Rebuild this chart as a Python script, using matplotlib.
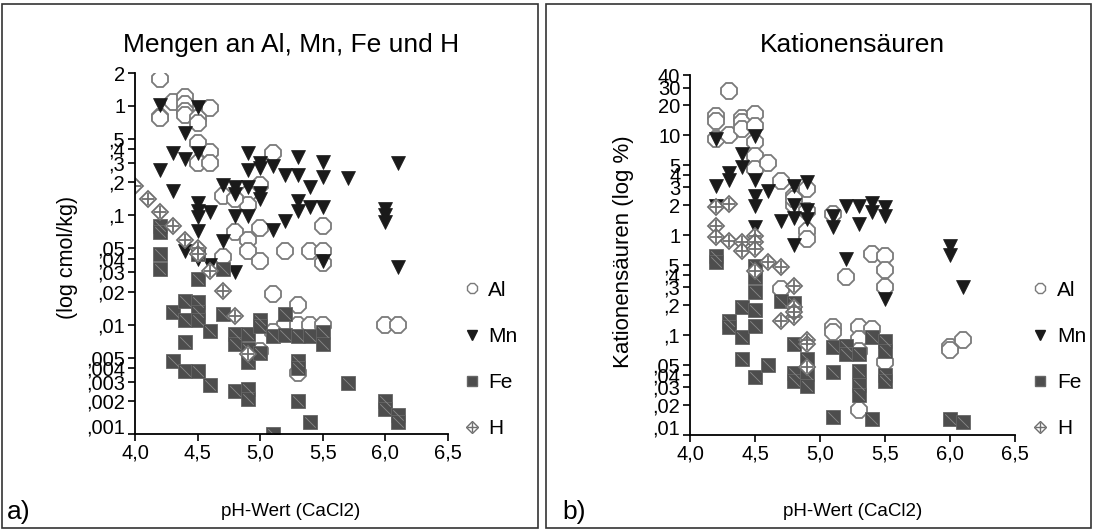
import matplotlib
matplotlib.use("Agg")
import matplotlib.pyplot as plt
import matplotlib.transforms as mtransforms
from matplotlib.lines import Line2D
from matplotlib.patches import Rectangle
from matplotlib.path import Path

plt.rcParams['font.family'] = ['Liberation Sans', 'DejaVu Sans']

# ---- panel a) amounts (cmol/kg) ----
al_a_ph = [4.2, 4.2, 4.2, 4.3, 4.4, 4.4, 4.4, 4.4, 4.5, 4.5, 4.6, 4.5, 4.6, 4.5, 4.6,
           5.1, 5.0, 4.9, 4.9, 4.7, 4.8, 5.0, 5.5, 4.8, 4.9, 4.9, 4.7, 5.0, 5.2, 5.4,
           5.5, 5.5, 5.1, 5.3, 5.2, 5.3, 5.4, 5.5, 6.0, 6.1, 5.1, 5.0, 5.3]
al_a_val = [1.75, 0.8, 0.77, 1.08, 1.2, 1.05, 0.9, 0.83, 0.78, 0.7, 0.95, 0.46, 0.38, 0.3, 0.3,
            0.37, 0.19, 0.155, 0.125, 0.15, 0.14, 0.077, 0.08, 0.07, 0.06, 0.047, 0.042, 0.038, 0.047, 0.047,
            0.047, 0.037, 0.019, 0.015, 0.01, 0.01, 0.01, 0.01, 0.01, 0.01, 0.0086, 0.0057, 0.0036]

mn_a_ph = [4.2, 4.5, 4.4, 4.3, 4.4, 4.5, 4.2, 4.9, 4.9, 5.0, 5.0, 5.1, 5.3, 5.5, 6.1,
           5.2, 5.3, 5.5, 5.7, 5.4, 4.9, 5.0, 5.0, 5.3, 5.3, 5.4, 5.5, 6.0, 6.0, 6.0,
           4.9, 5.2, 5.1, 5.5, 6.1, 4.3, 4.5, 4.5, 4.5, 4.6, 4.5, 4.7, 4.8, 4.8, 4.8,
           4.7, 4.4, 4.5, 4.6, 4.8]
mn_a_val = [1.02, 0.98, 0.56, 0.37, 0.33, 0.37, 0.26, 0.37, 0.26, 0.30, 0.27, 0.28, 0.34, 0.31, 0.30,
            0.235, 0.235, 0.226, 0.22, 0.18, 0.18, 0.16, 0.14, 0.135, 0.11, 0.12, 0.12, 0.114, 0.10, 0.087,
            0.098, 0.089, 0.074, 0.038, 0.034, 0.166, 0.13, 0.11, 0.096, 0.108, 0.072, 0.19, 0.18, 0.155, 0.098,
            0.058, 0.047, 0.04, 0.035, 0.03]

fe_a_ph = [4.2, 4.2, 4.2, 4.2, 4.5, 4.5, 4.7, 4.3, 4.4, 4.4, 4.5, 4.5, 4.5, 4.6, 4.4, 4.7,
           4.8, 4.8, 4.9, 4.9, 4.9, 4.3, 4.4, 4.5, 4.6, 4.8, 4.9, 4.9, 5.0, 5.0, 5.1, 5.2,
           5.2, 5.3, 5.4, 5.5, 5.5, 5.0, 5.3, 5.3, 5.3, 5.7, 5.4, 5.1, 6.0, 6.0, 6.1, 6.1]
fe_a_val = [0.08, 0.07, 0.044, 0.032, 0.026, 0.044, 0.032, 0.013, 0.0165, 0.011, 0.016, 0.013, 0.011, 0.0088, 0.007, 0.0125,
            0.0083, 0.0067, 0.0083, 0.006, 0.0046, 0.0047, 0.0038, 0.0038, 0.0028, 0.0025, 0.0026, 0.0021, 0.011, 0.0098, 0.0078, 0.0126,
            0.008, 0.0078, 0.0078, 0.0086, 0.0067, 0.0055, 0.0047, 0.004, 0.002, 0.0029, 0.0013, 0.001, 0.002, 0.0017, 0.0015, 0.0013]

h_a_ph = [4.0, 4.1, 4.2, 4.3, 4.4, 4.5, 4.5, 4.6, 4.7, 4.8, 4.9]
h_a_val = [0.185, 0.14, 0.108, 0.08, 0.06, 0.05, 0.044, 0.031, 0.0205, 0.012, 0.0054]

# ---- panel b) cation acids (%) ----
al_b_ph = [4.3, 4.2, 4.2, 4.2, 4.3, 4.4, 4.4, 4.4, 4.5, 4.5, 4.5, 4.5, 4.5, 4.6, 4.7, 4.8,
           4.9, 4.8, 4.8, 4.9, 4.9, 4.9, 5.1, 5.4, 5.5, 5.5, 5.5, 5.2, 5.1, 5.1, 5.3, 5.4,
           5.3, 5.2, 5.3, 5.5, 5.3, 6.0, 6.0, 6.1, 4.7]
al_b_val = [28, 15.5, 14, 9.1, 10, 15, 13.5, 11.5, 16.2, 12.3, 8.5, 6.2, 4.6, 5.3, 3.5, 2.45,
            2.9, 2.0, 2.3, 1.75, 1.1, 0.91, 1.62, 0.65, 0.62, 0.45, 0.3, 0.38, 0.12, 0.107, 0.12, 0.115,
            0.091, 0.074, 0.07, 0.054, 0.018, 0.076, 0.071, 0.09, 0.29]

mn_b_ph = [4.2, 4.3, 4.3, 4.4, 4.4, 4.5, 4.5, 4.2, 4.6, 4.8, 4.9, 4.2, 4.5, 4.5, 4.5, 4.7,
           4.8, 4.8, 4.9, 4.9, 4.8, 5.1, 5.1, 5.2, 5.3, 5.3, 5.4, 5.4, 5.5, 5.5, 5.2, 6.0,
           6.0, 6.1, 5.5]
mn_b_val = [9.1, 4.2, 3.6, 6.5, 4.8, 9.8, 3.6, 3.1, 2.75, 3.1, 3.4, 1.95, 2.45, 1.95, 1.2, 1.38,
            2.0, 0.8, 1.8, 1.45, 1.5, 1.55, 1.2, 1.95, 1.95, 1.3, 2.1, 1.7, 1.9, 1.55, 0.58, 0.77,
            0.64, 0.30, 0.23]

fe_b_ph = [4.2, 4.2, 4.3, 4.3, 4.4, 4.4, 4.4, 4.5, 4.5, 4.5, 4.5, 4.5, 4.5, 4.6, 4.7, 4.8,
           4.8, 4.8, 4.8, 4.9, 4.9, 4.9, 5.1, 5.1, 5.1, 5.2, 5.2, 5.3, 5.3, 5.3, 5.3, 5.4,
           5.4, 5.5, 5.5, 5.5, 5.5, 6.0, 6.1]
fe_b_val = [0.62, 0.54, 0.138, 0.12, 0.19, 0.095, 0.057, 0.18, 0.123, 0.038, 0.49, 0.38, 0.27, 0.05, 0.22, 0.21,
            0.082, 0.042, 0.035, 0.057, 0.041, 0.031, 0.076, 0.043, 0.015, 0.078, 0.065, 0.065, 0.044, 0.032, 0.025, 0.095,
            0.0145, 0.087, 0.07, 0.04, 0.035, 0.0145, 0.0135]

h_b_ph = [4.2, 4.3, 4.2, 4.2, 4.3, 4.4, 4.4, 4.5, 4.5, 4.5, 4.5, 4.6, 4.7, 4.8, 4.8, 4.8,
          4.7, 4.8, 4.9, 4.9, 4.9]
h_b_val = [1.9, 2.05, 1.23, 0.95, 0.87, 0.85, 0.7, 0.98, 0.85, 0.72, 0.44, 0.54, 0.48, 0.31, 0.19, 0.15,
           0.137, 0.17, 0.09, 0.081, 0.048]

xticks = [4.0, 4.5, 5.0, 5.5, 6.0, 6.5]
xticklabels = ['4,0', '4,5', '5,0', '5,5', '6,0', '6,5']
yticks_a = [2, 1, 0.5, 0.4, 0.3, 0.2, 0.1, 0.05, 0.04, 0.03, 0.02, 0.01,
            0.005, 0.004, 0.003, 0.002, 0.001]
ylabels_a = ['2', '1', ',5', ',4', ',3', ',2', ',1', ',05', ',04', ',03', ',02', ',01',
             ',005', ',004', ',003', ',002', ',001']
yticks_b = [40, 30, 20, 10, 5, 4, 3, 2, 1, 0.5, 0.4, 0.3, 0.2, 0.1, 0.05, 0.04, 0.03, 0.02, 0.01]
ylabels_b = ['40', '30', '20', '10', '5', '4', '3', '2', '1', ',5', ',4', ',3', ',2', ',1',
             ',05', ',04', ',03', ',02', ',01']

AL_EDGE = '#7a7a7a'
FE_COL = '#4d4d4d'
H_EDGE = '#6e6e6e'
slash = Path([(-1, 1), (1, -1)])

fig = plt.figure(figsize=(10.94, 5.30), dpi=100)


def draw(ax, al, mn, fe, h):
    ax.plot(*al, ls='none', marker='8', ms=12, mfc='white', mec=AL_EDGE, mew=1.3)
    ax.plot(*mn, ls='none', marker='v', ms=10, mfc='#1a1a1a', mec='#1a1a1a', mew=0.5)
    ax.plot(*fe, ls='none', marker='s', ms=10.5, mfc=FE_COL, mec='#666666', mew=0.6)
    ax.plot(*fe, ls='none', marker=slash, ms=7.5, mec='#8a8a8a', mew=0.6)
    ax.plot(*h, ls='none', marker='D', ms=8.5, mfc='white', mec=H_EDGE, mew=1.3)
    ax.plot(*h, ls='none', marker='+', ms=9, mec=H_EDGE, mew=1.3)


def style(ax, ylim, yt, yl):
    ax.set_yscale('log')
    ax.set_xlim(4.0, 6.5)
    ax.set_ylim(*ylim)
    ax.set_xticks(xticks)
    ax.set_xticklabels(xticklabels)
    ax.set_yticks(yt)
    ax.set_yticklabels(yl)
    ax.minorticks_off()
    for s in ['top', 'right']:
        ax.spines[s].set_visible(False)
    for s in ['left', 'bottom']:
        ax.spines[s].set_linewidth(1.3)
    ax.tick_params(direction='out', length=5, width=1.2, labelsize=14.5, pad=2)
    # lowest label sits a little higher, as in the original
    lab = ax.get_yticklabels()[-1]
    lab.set_transform(lab.get_transform() + mtransforms.ScaledTranslation(0, 6 / 72, fig.dpi_scale_trans))


axa = fig.add_axes([0.1234, 0.1811, 0.2861, 0.6811])
draw(axa, (al_a_ph, al_a_val), (mn_a_ph, mn_a_val), (fe_a_ph, fe_a_val), (h_a_ph, h_a_val))
style(axa, (0.001, 2), yticks_a, ylabels_a)

axb = fig.add_axes([0.6307, 0.1792, 0.2971, 0.6792])
draw(axb, (al_b_ph, al_b_val), (mn_b_ph, mn_b_val), (fe_b_ph, fe_b_val), (h_b_ph, h_b_val))
style(axb, (0.01, 40), yticks_b, ylabels_b)

# legends
handles = [
    Line2D([], [], ls='none', marker='8', ms=7.5, mfc='white', mec=AL_EDGE, mew=1),
    Line2D([], [], ls='none', marker='v', ms=7, mfc='#1a1a1a', mec='#1a1a1a'),
    Line2D([], [], ls='none', marker='s', ms=7, mfc=FE_COL, mec='#666666'),
    (Line2D([], [], ls='none', marker='D', ms=6.5, mfc='white', mec=H_EDGE, mew=1),
     Line2D([], [], ls='none', marker='+', ms=7, mec=H_EDGE, mew=1)),
]
names = ['Al', 'Mn', 'Fe', 'H']
for x0 in [0.413, 0.933]:
    fig.legend(handles, names, loc='upper left', bbox_to_anchor=(x0, 0.49), frameon=False,
               fontsize=15, labelspacing=1.3, handlelength=0.9, handletextpad=0.35, borderpad=0)

# titles and labels
fig.text(0.266, 0.915, 'Mengen an Al, Mn, Fe und H', ha='center', va='center', fontsize=19)
fig.text(0.779, 0.915, 'Kationensäuren', ha='center', va='center', fontsize=19)
fig.text(0.062, 0.515, '(log cmol/kg)', rotation=90, ha='center', va='center', fontsize=15.5)
fig.text(0.5695, 0.526, 'Kationensäuren (log %)', rotation=90, ha='center', va='center', fontsize=16)
fig.text(0.266, 0.034, 'pH-Wert (CaCl2)', ha='center', va='center', fontsize=13.5)
fig.text(0.779, 0.034, 'pH-Wert (CaCl2)', ha='center', va='center', fontsize=13.5)
fig.text(0.006, 0.034, 'a)', ha='left', va='center', fontsize=19)
fig.text(0.514, 0.034, 'b)', ha='left', va='center', fontsize=19)

# panel frames
for x0, x1 in [(2, 538), (546, 1091)]:
    fig.patches.append(Rectangle((x0 / 1094, 2 / 530), (x1 - x0) / 1094, 524 / 530,
                                 transform=fig.transFigure, fill=False, ec='#333333', lw=1.2))

fig.savefig('out.png', dpi=100)
